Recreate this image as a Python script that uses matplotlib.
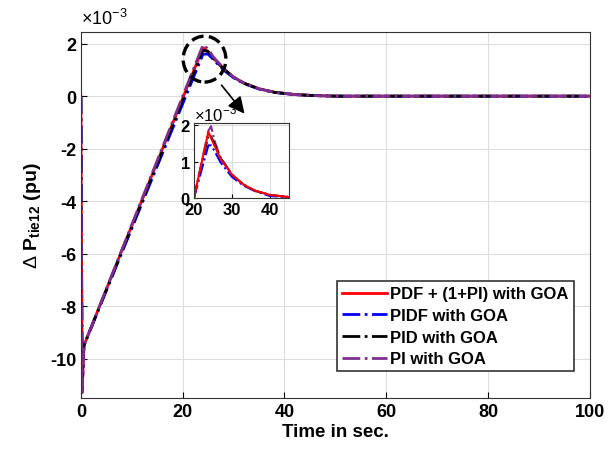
import numpy as np
import matplotlib.pyplot as plt
from matplotlib.patches import Ellipse

plt.rcParams['font.family'] = ['Liberation Sans', 'DejaVu Sans']
plt.rcParams['mathtext.fontset'] = 'custom'
plt.rcParams['mathtext.rm'] = 'Liberation Sans'
plt.rcParams['mathtext.bf'] = 'Liberation Sans:bold'
plt.rcParams['axes.unicode_minus'] = False

# time knots (s) and tie-line power deviation (x1e-3 pu)
t = [0, 0.25, 0.6, 24, 25, 26, 28, 30, 32, 35, 38, 42, 46, 50, 100]
pdf_1pi = [0, -11.2, -9.5, 1.85, 1.7, 1.45, 1.05, 0.72, 0.5, 0.28, 0.15, 0.06, 0.02, 0.0, 0.0]
pidf = [0, -11.2, -9.5, 1.6, 1.6, 1.4, 1.0, 0.7, 0.48, 0.27, 0.14, 0.06, 0.02, 0.0, 0.0]
pid = [0, -11.2, -9.5, 1.75, 1.7, 1.45, 1.05, 0.72, 0.5, 0.28, 0.15, 0.06, 0.02, 0.0, 0.0]
pi = [0, -11.3, -9.5, 1.95, 1.8, 1.5, 1.07, 0.73, 0.5, 0.28, 0.15, 0.06, 0.02, 0.0, 0.0]

# zoomed view
t_in = [20, 23.8, 24.5, 25.5, 27, 30, 33, 36, 40, 45]
pdf_1pi_in = [0, 1.82, 1.65, 1.42, 1.08, 0.64, 0.37, 0.2, 0.08, 0.02]
pidf_in = [0, 1.45, 1.45, 1.28, 0.98, 0.58, 0.34, 0.19, 0.05, 0.02]
pid_in = [0, 1.72, 1.7, 1.48, 1.1, 0.64, 0.37, 0.2, 0.08, 0.02]
pi_in = [0, 1.85, 1.98, 1.55, 1.12, 0.65, 0.37, 0.2, 0.08, 0.02]

labels = ['PDF + (1+PI) with GOA', 'PIDF with GOA', 'PID with GOA', 'PI with GOA']
colors = ['#ff0000', '#0000ff', '#000000', '#7e2f8e']
styles = ['-', '-.', '-.', '-.']

fig = plt.figure(figsize=(6.08, 4.56), dpi=100)
ax = fig.add_axes([0.133, 0.125, 0.837, 0.803])

series = [pdf_1pi, pidf, pid, pi]
for y, lab, c, ls in zip(series, labels, colors, styles):
    ax.plot(t, y, color=c, linestyle=ls, linewidth=2, label=lab)

ax.set_xlim(0, 100)
ax.set_ylim(-11.5, 2.45)
ax.set_xticks([0, 20, 40, 60, 80, 100])
ax.set_yticks([-10, -8, -6, -4, -2, 0, 2])
ax.grid(True, color='#dddddd', linewidth=0.8)
ax.tick_params(labelsize=13, direction='in', length=4)
for lbl in ax.get_xticklabels() + ax.get_yticklabels():
    lbl.set_fontweight('bold')
for s in ax.spines.values():
    s.set_color('#333333')
ax.set_xlabel('Time in sec.', fontsize=13.5, fontweight='bold', labelpad=2)
ax.set_ylabel(r'$\Delta$ P$_{\mathbf{tie12}}$ (pu)', fontsize=14, fontweight='bold', labelpad=5)
ax.text(0.0, 1.01, r'$\times10^{-3}$', transform=ax.transAxes, fontsize=13, va='bottom')

leg = ax.legend(loc='lower right', bbox_to_anchor=(0.985, 0.05),
                prop={'weight': 'bold', 'size': 12}, frameon=True, fancybox=False,
                edgecolor='#333333', framealpha=1, handlelength=2.7, handletextpad=0.2,
                borderpad=0.3, labelspacing=0.4)
leg.get_frame().set_linewidth(1.2)

# highlight circle and arrow
ax.add_patch(Ellipse((24.3, 1.41), 8.4, 1.75, fill=False, linestyle='--',
                     linewidth=2.4, edgecolor='black', zorder=5))
ax.annotate('', xy=(32.5, -0.75), xytext=(27.3, 0.5),
            arrowprops=dict(arrowstyle='-|>', color='black', lw=1.2, mutation_scale=25))

ax.text(-0.16, 1.1, '(a)', transform=ax.transAxes, color='#0000cc', fontsize=13)

# inset
axin = fig.add_axes([0.319, 0.564, 0.156, 0.165])
for y, c, ls in list(zip([pdf_1pi_in, pidf_in, pid_in, pi_in], colors, styles))[::-1]:
    axin.plot(t_in, y, color=c, linestyle=ls, linewidth=1.5)
axin.set_xlim(20, 45)
axin.set_ylim(0, 2.08)
axin.set_xticks([20, 30, 40])
axin.set_yticks([0, 1, 2])
axin.grid(True, color='#dddddd', linewidth=0.8)
axin.tick_params(labelsize=12, direction='in', length=3, pad=3)
for lbl in axin.get_xticklabels() + axin.get_yticklabels():
    lbl.set_fontweight('bold')
for s in axin.spines.values():
    s.set_color('#333333')
axin.text(0.0, 0.99, r'$\times10^{-3}$', transform=axin.transAxes, fontsize=12, va='bottom')

fig.savefig('out.png', dpi=100)
